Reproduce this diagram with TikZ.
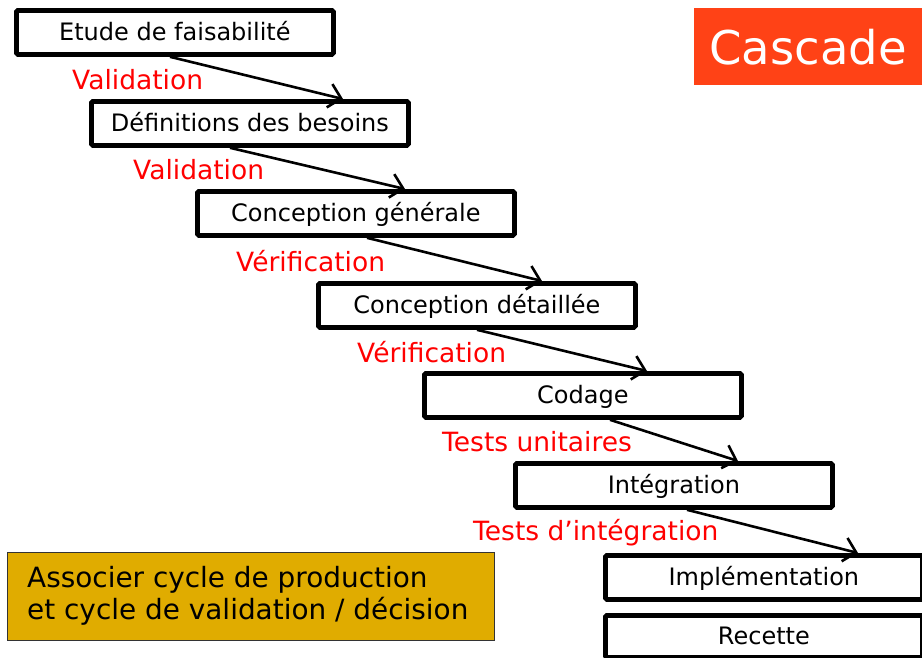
\documentclass[tikz,border=0pt]{standalone}
\usepackage{fontspec}
\setmainfont{DejaVu Sans}
\usetikzlibrary{arrows.meta}
\definecolor{cascadered}{RGB}{255,66,22}
\definecolor{gold}{RGB}{224,172,0}
\definecolor{labelred}{RGB}{255,0,0}
\begin{document}
\begin{tikzpicture}[x=1pt,y=-1pt,
  phase/.style={draw=black, line width=4.8pt, rounded corners=1.5pt, fill=white,
    minimum width=317pt, minimum height=44pt, anchor=north west, inner sep=0pt,
    font=\fontsize{24}{28}\selectfont, text height=17.5pt, text depth=0.5pt},
  gate/.style={text=labelred, anchor=west, inner sep=0pt,
    font=\fontsize{26.5}{30}\selectfont},
  arr/.style={line width=2.6pt, -{Straight Barb[length=12pt,width=24pt,line width=2.6pt]}}]
\useasboundingbox (0,0) rectangle (922,657);

% the phases of the waterfall
\node[phase] (p1) at (14,8)   {Etude de faisabilité};
\node[phase] (p2) at (89,99)  {Définitions des besoins};
\node[phase] (p3) at (195,189){Conception générale};
\node[phase] (p4) at (316,281){Conception détaillée};
\node[phase] (p5) at (422,371){Codage};
\node[phase] (p6) at (513,461){Intégration};
\node[phase] (p7) at (603,553){Implémentation};
\node[phase, minimum height=42pt] (p8) at (603,613){Recette};

% transitions between phases
\draw[arr] ([xshift=156pt]p1.south west) -- ([xshift=254pt]p2.north west);
\draw[arr] ([xshift=141pt]p2.south west) -- ([xshift=210pt]p3.north west);
\draw[arr] ([xshift=172pt]p3.south west) -- ([xshift=226pt]p4.north west);
\draw[arr] ([xshift=161pt]p4.south west) -- ([xshift=225pt]p5.north west);
\draw[arr] ([xshift=188pt]p5.south west) -- ([xshift=225pt]p6.north west);
\draw[arr] ([xshift=174pt]p6.south west) -- ([xshift=255pt]p7.north west);

% validation / verification labels
\node[gate] (g1) at (72,80)  {Validation};
\node[gate] (g2) at (133,170){Validation};
\node[gate] (g3) at (236,261){Vérification};
\node[gate] (g4) at (357,352){Vérification};
\node[gate] (g5) at (442,442){Tests unitaires};
\node[gate] (g6) at (473,533){Tests d’intégration};

% title
\node[fill=cascadered, text=white, anchor=north west, minimum width=228pt,
  minimum height=77pt, inner sep=0pt, font=\fontsize{46.5}{50}\selectfont]
  (title) at (694,8) {Cascade};

% note
\node[draw=black!80, line width=1pt, fill=gold, anchor=north west,
  minimum width=487pt, minimum height=88pt, inner sep=0pt] (note) at (7,552) {};
\node[anchor=west, align=left, inner sep=0pt,
  font=\fontsize{27.9}{32}\selectfont] (notetext) at (27,596)
  {Associer cycle de production\\et cycle de validation / décision};
\end{tikzpicture}
\end{document}
